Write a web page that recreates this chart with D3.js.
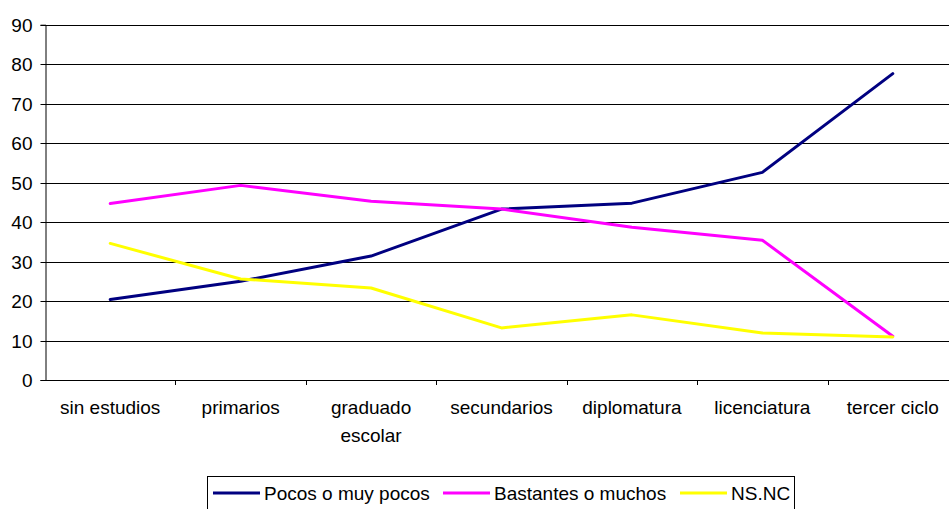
<!DOCTYPE html>
<html>
<head>
<meta charset="utf-8">
<script src="https://cdn.jsdelivr.net/npm/d3@7"></script>
<style>
  body { margin: 0; background: #fff; }
  text { font-family: "Liberation Sans", Arial, sans-serif; fill: #000; }
</style>
</head>
<body>
<svg width="949" height="509"></svg>
<script>
// categories on the x axis (third entry wraps on two lines)
const categories = ["sin estudios", "primarios", "graduado escolar", "secundarios", "diplomatura", "licenciatura", "tercer ciclo"];
const categoryLines = [["sin estudios"], ["primarios"], ["graduado", "escolar"], ["secundarios"], ["diplomatura"], ["licenciatura"], ["tercer ciclo"]];

const pocos = [20.4, 25.0, 31.4, 43.3, 44.8, 52.6, 77.6];
const bastantes = [44.7, 49.3, 45.3, 43.3, 38.7, 35.4, 11.1];
const nsnc = [34.6, 25.6, 23.3, 13.2, 16.5, 11.9, 10.9];

const yTicks = [0, 10, 20, 30, 40, 50, 60, 70, 80, 90];

const series = [
  { name: "Pocos o muy pocos", values: pocos, color: "#000080" },
  { name: "Bastantes o muchos", values: bastantes, color: "#FF00FF" },
  { name: "NS.NC", values: nsnc, color: "#FFFF00" }
];

const svg = d3.select("svg");

// plot box, runs a bit past the right edge of the window like the original
const plotLeft = 45, plotTop = 24.7, plotBottom = 380, plotRight = 958;

const x = d3.scaleBand().domain(categories).range([plotLeft, plotRight]);
const y = d3.scaleLinear().domain([0, 90]).range([plotBottom, plotTop]);

// horizontal gridlines
svg.append("g")
  .selectAll("line")
  .data(yTicks.filter(d => d > 0))
  .enter().append("line")
  .attr("x1", plotLeft).attr("x2", plotRight)
  .attr("y1", d => Math.round(y(d)) + 0.5)
  .attr("y2", d => Math.round(y(d)) + 0.5)
  .attr("stroke", "#000")
  .attr("stroke-width", 1);

// y axis
const yAxis = svg.append("g")
  .attr("transform", `translate(${plotLeft + 0.5},0)`)
  .call(d3.axisLeft(y).tickValues(yTicks).tickSize(5).tickPadding(8));
yAxis.selectAll("text").attr("font-size", 19).attr("font-family", "Liberation Sans, Arial, sans-serif");
yAxis.select(".domain").attr("stroke", "#000");
yAxis.selectAll(".tick line").attr("stroke", "#000");
yAxis.selectAll(".tick").attr("transform", d => `translate(0,${Math.round(y(d)) + 0.5})`);

// x axis line + ticks between categories
svg.append("line")
  .attr("x1", plotLeft).attr("x2", plotRight)
  .attr("y1", plotBottom + 0.5).attr("y2", plotBottom + 0.5)
  .attr("stroke", "#000");

svg.append("g")
  .selectAll("line")
  .data(categories.slice(1))
  .enter().append("line")
  .attr("x1", d => Math.round(x(d)) + 0.5)
  .attr("x2", d => Math.round(x(d)) + 0.5)
  .attr("y1", plotBottom).attr("y2", plotBottom + 5)
  .attr("stroke", "#000");

// category labels
const labels = svg.append("g")
  .selectAll("text")
  .data(categories)
  .enter().append("text")
  .attr("text-anchor", "middle")
  .attr("font-size", 19)
  .attr("x", d => x(d) + x.bandwidth() / 2)
  .attr("y", 414);

labels.each(function(d, i) {
  const t = d3.select(this);
  categoryLines[i].forEach((ln, j) => {
    t.append("tspan")
      .attr("x", x(d) + x.bandwidth() / 2)
      .attr("dy", j === 0 ? 0 : 28)
      .text(ln);
  });
});

// the lines
const line = d3.line()
  .x((d, i) => x(categories[i]) + x.bandwidth() / 2)
  .y(d => y(d));

svg.append("g")
  .selectAll("path")
  .data(series)
  .enter().append("path")
  .attr("d", s => line(s.values))
  .attr("fill", "none")
  .attr("stroke", s => s.color)
  .attr("stroke-width", 3)
  .attr("stroke-linejoin", "round")
  .attr("stroke-linecap", "round");

// legend
const legend = svg.append("g");
legend.append("rect")
  .attr("x", 207.5).attr("y", 476.5)
  .attr("width", 587).attr("height", 40)
  .attr("fill", "#fff")
  .attr("stroke", "#000");

const legendX = [213, 443, 680];
const items = legend.selectAll("g.item")
  .data(series)
  .enter().append("g")
  .attr("transform", (d, i) => `translate(${legendX[i]},493)`);

items.append("line")
  .attr("x1", 0).attr("x2", 47)
  .attr("y1", 0).attr("y2", 0)
  .attr("stroke", d => d.color)
  .attr("stroke-width", 3);

items.append("text")
  .attr("x", 51)
  .attr("y", 6.5)
  .attr("font-size", 19)
  .text(d => d.name);
</script>
</body>
</html>
